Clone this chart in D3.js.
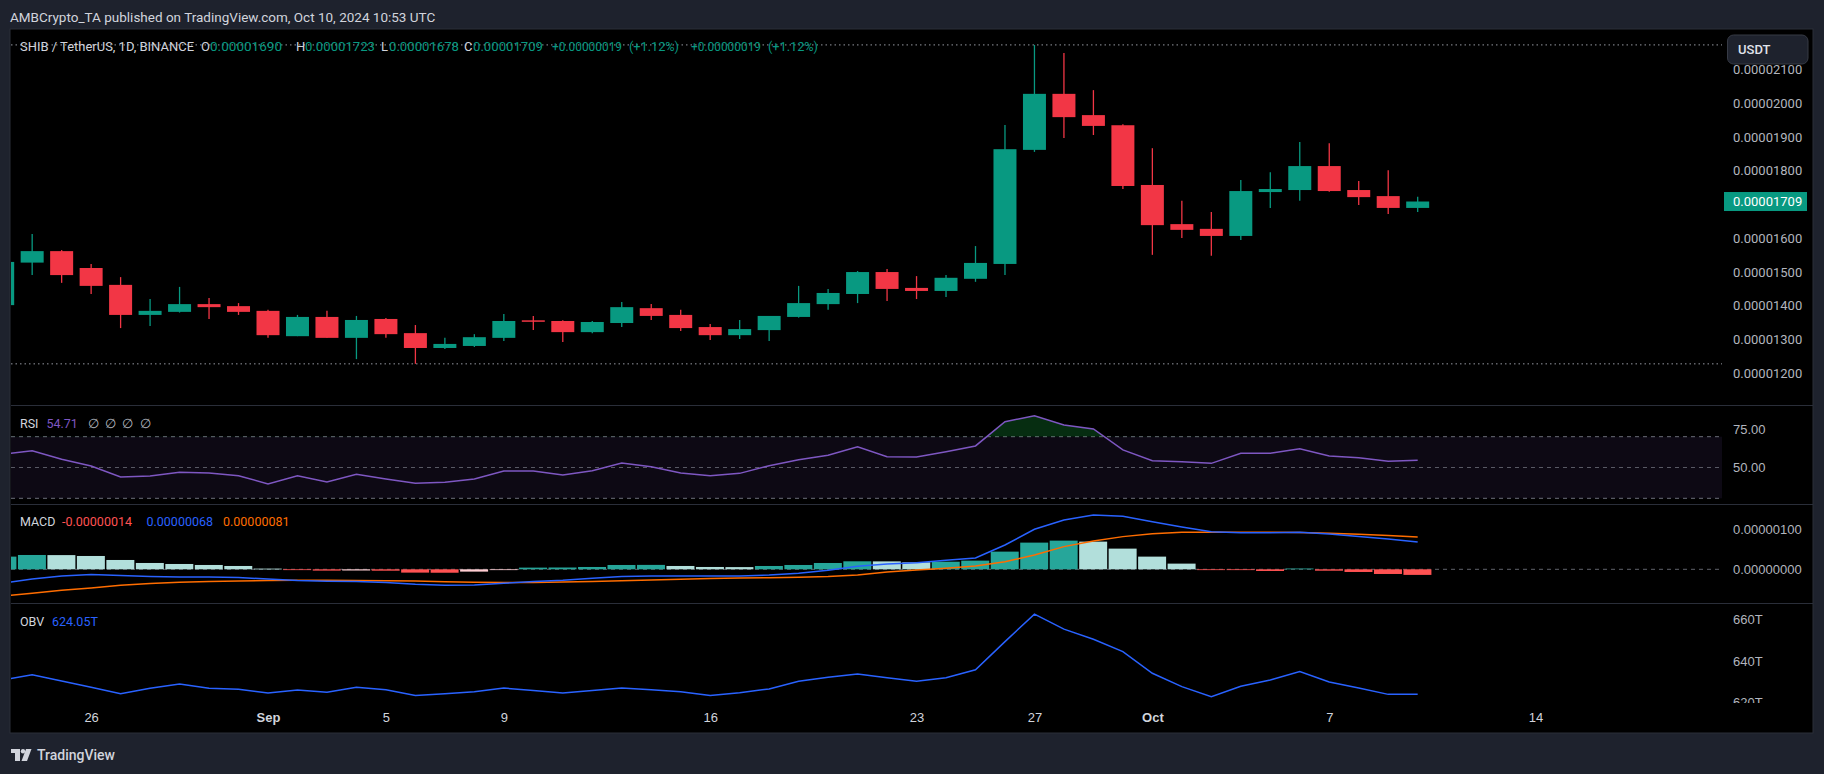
<!DOCTYPE html>
<html><head><meta charset="utf-8">
<script src="https://cdn.jsdelivr.net/npm/d3@7"></script>
<style>
html,body{margin:0;padding:0;background:#1e222d;overflow:hidden;}
svg{display:block;font-family:Roboto,"Noto Sans",sans-serif;}
</style></head>
<body><svg id="c" width="1824" height="774"></svg>
<script>
// ---------- DATA ----------
const dates = ["2024-08-23","2024-08-24","2024-08-25","2024-08-26","2024-08-27","2024-08-28","2024-08-29","2024-08-30","2024-08-31",
"2024-09-01","2024-09-02","2024-09-03","2024-09-04","2024-09-05","2024-09-06","2024-09-07","2024-09-08","2024-09-09","2024-09-10",
"2024-09-11","2024-09-12","2024-09-13","2024-09-14","2024-09-15","2024-09-16","2024-09-17","2024-09-18","2024-09-19","2024-09-20",
"2024-09-21","2024-09-22","2024-09-23","2024-09-24","2024-09-25","2024-09-26","2024-09-27","2024-09-28","2024-09-29","2024-09-30",
"2024-10-01","2024-10-02","2024-10-03","2024-10-04","2024-10-05","2024-10-06","2024-10-07","2024-10-08","2024-10-09","2024-10-10"];
// prices in units of 1e-8 USDT
const open  = [1402,1528,1562,1512,1462,1373,1382,1405,1399,1385,1310,1367,1305,1361,1319,1275,1281,1305,1357,1355,1322,1349,1393,1373,1337,1313,1328,1367,1405,1435,1500,1453,1444,1480,1524,1862,2028,1965,1935,1758,1642,1628,1607,1737,1743,1814,1743,1725,1690];
const high  = [1535,1613,1565,1524,1485,1420,1456,1423,1408,1388,1373,1385,1370,1364,1343,1305,1316,1376,1370,1357,1355,1411,1405,1388,1346,1358,1370,1459,1450,1503,1509,1488,1491,1577,1936,2173,2149,2039,1938,1867,1711,1678,1773,1796,1885,1882,1770,1802,1723];
const low   = [1395,1491,1468,1435,1334,1340,1380,1361,1373,1305,1310,1305,1242,1305,1228,1272,1278,1296,1328,1293,1319,1337,1358,1325,1299,1302,1296,1365,1388,1408,1414,1420,1426,1471,1491,1856,1897,1906,1746,1551,1601,1548,1595,1690,1711,1738,1699,1672,1678];
const close = [1530,1562,1491,1459,1373,1385,1405,1396,1382,1313,1367,1305,1358,1316,1275,1287,1307,1355,1353,1322,1352,1396,1370,1334,1313,1331,1370,1408,1438,1500,1450,1444,1483,1527,1864,2028,1959,1933,1755,1639,1625,1607,1740,1746,1814,1740,1722,1690,1709];
const rsi = [58.6,60.9,55.3,51.0,43.8,44.5,46.9,46.4,44.7,39.3,44.7,40.6,45.6,42.5,39.7,40.4,42.5,47.7,47.7,45.1,47.9,52.9,50.5,46.4,44.7,46.2,51.2,55.1,57.9,63.5,57.0,56.8,60.3,64.0,79.7,83.6,77.6,75.0,61.4,54.4,53.8,52.7,59.2,59.2,62.2,57.5,56.4,54.0,54.71];
// MACD values in units of 1e-8
const macdLine = [-35,-24.2,-16.7,-13.3,-15.8,-18.3,-19.2,-19.2,-20.8,-24.2,-28.3,-30,-30.8,-33.3,-37.5,-40,-39.2,-35,-30.8,-27.5,-22.5,-18.3,-16.7,-16.7,-16.7,-16.7,-14.2,-10,-2.5,7.5,13.3,16.5,22.5,28.3,60.8,100,123.3,135.8,132.5,119,105.8,94,91.5,91.5,92.5,88.3,81.7,75.8,68];
const signalLine = [-66.7,-60,-52.5,-46.5,-40,-35.5,-32.5,-30.5,-29,-28,-27.5,-27.5,-27.8,-28.5,-29.5,-31,-32.5,-33,-33,-32,-30.5,-28.5,-27,-25,-23,-22,-21,-20,-18,-14,-7,-2,2.5,8.3,19,35.8,56.7,70.8,81.7,89,92.5,92.5,92.5,92.5,92,90,87.5,84.5,81];
const histogram = [31.7,35.8,35.5,33.3,23.3,15.8,13.3,10.8,8.3,1.7,-1.0,-3.3,-3.0,-3.5,-8.3,-8.6,-5.8,-1.0,4.2,4.5,5.8,10.8,11.0,8.3,5.8,5.5,8.3,10.8,15.8,20.0,19.8,17.5,19.0,21.7,44.2,66.7,71.7,69.2,51.7,31.7,14.2,-1.5,-1.8,-4.2,2.0,-3.5,-6.7,-11.7,-14];
// OBV in trillions
const obv = [630.9,633.4,630.4,627.4,624.3,626.9,629.0,626.9,626.4,624.7,626.1,625.0,627.4,626.2,623.5,624.3,625.3,627.0,625.9,624.7,625.8,627.0,626.2,625.3,623.5,624.8,626.6,630.3,632.2,633.8,632.0,630.3,632.0,635.8,649.3,662.5,655.3,650.4,644.5,634.1,627.7,622.9,627.9,630.9,634.9,629.9,627.0,624.0,624.05];

const timeTicks = ["2024-08-26","2024-09-01","2024-09-05","2024-09-09","2024-09-16","2024-09-23","2024-09-27","2024-10-01","2024-10-07","2024-10-14"];
const timeLabels = ["26","Sep","5","9","16","23","27","Oct","7","14"];
const priceTicks = [1200,1300,1400,1500,1600,1700,1800,1900,2000,2100];
const rsiTicks = [75,50];
const rsiLevels = [70,50,30];
const macdTicks = [0,100];
const obvTicks = [620,640,660];

// ---------- LAYOUT ----------
const W=1824,H=774;
const L=11, PR=1722, AR=1813, TOP=29, BOT=733;
const pane = {price:[30,405], rsi:[406,504], macd:[505,603], obv:[604,703]};
const axisX = 1733;
const UP="#089981", DN="#f23645", TXT="#d1d4dc", AX="#b2b5be", SEP="#2a2e39";
const AXFS = 13;

const svg = d3.select("#c");
const parse = d3.utcParse("%Y-%m-%d");
const D = dates.map(parse);

const x = d3.scaleUtc().domain([parse("2024-09-01"), parse("2024-10-14")]).range([268, 1535.6]);
const step = x(parse("2024-09-02")) - x(parse("2024-09-01"));
const bodyW = step*0.78;

const yP = d3.scaleLinear().domain([1200,2000]).range([373.3,103.3]);
const yR = d3.scaleLinear().domain([30,70]).range([498.3,436.7]);
const yM = d3.scaleLinear().domain([0,100]).range([569.3,529.3]);
const yO = d3.scaleLinear().domain([640,660]).range([661,619.3]);

const fmt8 = v => (v*1e-8).toFixed(8);

// frame
svg.append("rect").attr("width",W).attr("height",H).attr("fill","#1e222d");
svg.append("rect").attr("x",L-1).attr("y",TOP).attr("width",AR-L+1).attr("height",BOT-TOP).attr("fill","#000").attr("stroke",SEP);

// clip paths
const defs = svg.append("defs");
Object.entries(pane).forEach(([k,[a,b]])=>{
  defs.append("clipPath").attr("id","clip-"+k).append("rect").attr("x",L).attr("y",a).attr("width",PR-L).attr("height",b-a);
  defs.append("clipPath").attr("id","clipax-"+k).append("rect").attr("x",PR).attr("y",a).attr("width",AR-PR).attr("height",b-a);
});
defs.append("clipPath").attr("id","clip-ob").append("rect").attr("x",L).attr("y",pane.rsi[0]).attr("width",PR-L).attr("height",yR(70)-pane.rsi[0]);

// separators
[405.5,504.5,603.5].forEach(yy=>svg.append("line").attr("x1",L).attr("x2",AR).attr("y1",yy).attr("y2",yy).attr("stroke",SEP));

// header
svg.append("text").attr("x",10).attr("y",21.5).attr("fill",TXT).attr("font-size",13.5)
  .text("AMBCrypto_TA published on TradingView.com, Oct 10, 2024 10:53 UTC");

// ---------- PRICE PANE ----------
const gP = svg.append("g").attr("clip-path","url(#clip-price)");
const hiMax = d3.max(high), loMin = d3.min(low);
[hiMax, loMin].forEach(v=>gP.append("line").attr("x1",L).attr("x2",PR).attr("y1",yP(v)).attr("y2",yP(v))
  .attr("stroke","#9598a1").attr("stroke-width",1).attr("stroke-dasharray","1.5,3"));

const candles = gP.selectAll("g.c").data(D).join("g");
candles.append("line")
  .attr("x1",(d)=>x(d)).attr("x2",(d)=>x(d))
  .attr("y1",(d,i)=>yP(high[i])).attr("y2",(d,i)=>yP(low[i]))
  .attr("stroke",(d,i)=>close[i]>=open[i]?UP:DN).attr("stroke-width",1.3);
candles.append("rect")
  .attr("x",d=>x(d)-bodyW/2).attr("width",bodyW)
  .attr("y",(d,i)=>yP(Math.max(open[i],close[i])))
  .attr("height",(d,i)=>Math.max(1.5,Math.abs(yP(open[i])-yP(close[i]))))
  .attr("fill",(d,i)=>close[i]>=open[i]?UP:DN);

// legend (each piece fitted to its width in the reference)
const n = dates.length-1;
const chg = close[n]-close[n-1];
const pct = (chg/close[n-1]*100).toFixed(2);
const chgTxt = (chg>=0?"+":"")+fmt8(chg), pctTxt = "("+(chg>=0?"+":"")+pct+"%)";
const legendPieces = [
  ["SHIB / TetherUS, 1D, BINANCE",20,174,TXT],
  ["O",201,0,TXT],[fmt8(open[n]),210,72,UP],
  ["H",296,0,TXT],[fmt8(high[n]),305,70,UP],
  ["L",381,0,TXT],[fmt8(low[n]),389,70,UP],
  ["C",464,0,TXT],[fmt8(close[n]),473,70,UP],
  [chgTxt,552,70,UP],[pctTxt,629,50,UP],
  [chgTxt,691,70,UP],[pctTxt,768,50,UP]
];
legendPieces.forEach(([t,px,w,c])=>{
  const e = svg.append("text").attr("x",px).attr("y",51).attr("font-size",13).attr("fill",c).text(t);
  if(w) e.attr("textLength",w).attr("lengthAdjust","spacingAndGlyphs");
});

// price axis
const gPA = svg.append("g").attr("clip-path","url(#clipax-price)");
gPA.append("g").attr("transform",`translate(${axisX},0)`)
  .call(d3.axisRight(yP).tickValues(priceTicks).tickFormat(fmt8).tickSize(0).tickPadding(0))
  .call(g=>g.select(".domain").remove())
  .call(g=>g.selectAll("text").attr("fill",AX).attr("font-size",AXFS).attr("font-family","Roboto"));
// USDT box
svg.append("rect").attr("x",1727.5).attr("y",35).attr("width",80.5).attr("height",29).attr("rx",6)
  .attr("fill","#1e222d").attr("stroke","#363a45");
svg.append("text").attr("x",1738).attr("y",53.5).attr("fill","#e0e3eb").attr("font-size",13).attr("font-weight",500).text("USDT");
// current price label
svg.append("rect").attr("x",1724).attr("y",yP(close[n])-9.5).attr("width",83).attr("height",19).attr("fill",UP);
svg.append("text").attr("x",axisX).attr("y",yP(close[n])).attr("dy","0.35em").attr("fill","#fff").attr("font-size",AXFS).text(fmt8(close[n]));

// ---------- RSI PANE ----------
const gR = svg.append("g").attr("clip-path","url(#clip-rsi)");
gR.append("rect").attr("x",L).attr("width",PR-L).attr("y",yR(70)).attr("height",yR(30)-yR(70)).attr("fill","rgba(126,87,194,0.1)");
rsiLevels.forEach(v=>gR.append("line").attr("x1",L).attr("x2",PR).attr("y1",yR(v)).attr("y2",yR(v))
  .attr("stroke","#787b86").attr("stroke-dasharray","4,4").attr("opacity",v===50?0.7:0.9));
gR.append("path").datum(D).attr("clip-path","url(#clip-ob)")
  .attr("d",d3.area().x(d=>x(d)).y0(yR(70)).y1((d,i)=>yR(rsi[i])))
  .attr("fill","rgba(20,160,60,0.28)");
gR.append("path").datum(D).attr("d",d3.line().x(d=>x(d)).y((d,i)=>yR(rsi[i])))
  .attr("fill","none").attr("stroke","#7e57c2").attr("stroke-width",1.5);
svg.append("g").attr("transform",`translate(${axisX},0)`)
  .call(d3.axisRight(yR).tickValues(rsiTicks).tickFormat(d=>d.toFixed(2)).tickSize(0).tickPadding(0))
  .call(g=>g.select(".domain").remove())
  .call(g=>g.selectAll("text").attr("fill",AX).attr("font-size",AXFS));
const rl = svg.append("text").attr("y",427.5).attr("font-size",12.5);
rl.append("tspan").attr("x",20).attr("fill",TXT).text("RSI");
rl.append("tspan").attr("x",46.5).attr("fill","#7e57c2").text(rsi[n].toFixed(2));
[88,105,122,140].forEach(px=>rl.append("tspan").attr("x",px).attr("fill",AX).text("∅"));

// ---------- MACD PANE ----------
const gM = svg.append("g").attr("clip-path","url(#clip-macd)");
gM.append("line").attr("x1",L).attr("x2",PR).attr("y1",yM(0)).attr("y2",yM(0))
  .attr("stroke","#787b86").attr("stroke-dasharray","4,4").attr("opacity",0.8);
const histColor = (i)=>{
  const v=histogram[i], p = i>0?histogram[i-1]:-Infinity;
  if(v>=0) return v>p?"#26a69a":"#b2dfdb";
  return v<p?"#ff5252":"#ffcdd2";
};
gM.selectAll("rect.h").data(D).join("rect")
  .attr("x",d=>x(d)-step/2+0.5).attr("width",step-1.5)
  .attr("y",(d,i)=>Math.min(yM(0),yM(histogram[i])))
  .attr("height",(d,i)=>Math.max(0.8,Math.abs(yM(histogram[i])-yM(0))))
  .attr("fill",(d,i)=>histColor(i));
gM.append("path").datum(D).attr("d",d3.line().x(d=>x(d)).y((d,i)=>yM(signalLine[i])))
  .attr("fill","none").attr("stroke","#ff6d00").attr("stroke-width",1.5);
gM.append("path").datum(D).attr("d",d3.line().x(d=>x(d)).y((d,i)=>yM(macdLine[i])))
  .attr("fill","none").attr("stroke","#2962ff").attr("stroke-width",1.5);
svg.append("g").attr("transform",`translate(${axisX},0)`)
  .call(d3.axisRight(yM).tickValues(macdTicks).tickFormat(fmt8).tickSize(0).tickPadding(0))
  .call(g=>g.select(".domain").remove())
  .call(g=>g.selectAll("text").attr("fill",AX).attr("font-size",AXFS));
const ml = svg.append("text").attr("y",526).attr("font-size",12.5);
ml.append("tspan").attr("x",20).attr("fill",TXT).text("MACD");
ml.append("tspan").attr("x",62).attr("fill","#ff5252").text(fmt8(histogram[n]));
ml.append("tspan").attr("x",146.5).attr("fill","#2962ff").text(fmt8(macdLine[n]));
ml.append("tspan").attr("x",223).attr("fill","#ff6d00").text(fmt8(signalLine[n]));

// ---------- OBV PANE ----------
const gO = svg.append("g").attr("clip-path","url(#clip-obv)");
gO.append("path").datum(D).attr("d",d3.line().x(d=>x(d)).y((d,i)=>yO(obv[i])))
  .attr("fill","none").attr("stroke","#2962ff").attr("stroke-width",1.5);
svg.append("g").attr("clip-path","url(#clipax-obv)").append("g").attr("transform",`translate(${axisX},0)`)
  .call(d3.axisRight(yO).tickValues(obvTicks).tickFormat(d=>d+"T").tickSize(0).tickPadding(0))
  .call(g=>g.select(".domain").remove())
  .call(g=>g.selectAll("text").attr("fill",AX).attr("font-size",AXFS));
const ol = svg.append("text").attr("y",626).attr("font-size",12.5);
ol.append("tspan").attr("x",20).attr("fill",TXT).text("OBV");
ol.append("tspan").attr("x",52).attr("fill","#2962ff").text(obv[n].toFixed(2)+"T");

// ---------- TIME AXIS ----------
svg.append("g").attr("transform","translate(0,713)")
  .call(d3.axisBottom(x).tickValues(timeTicks.map(parse)).tickFormat((d,i)=>timeLabels[i]).tickSize(0).tickPadding(0))
  .call(g=>g.select(".domain").remove())
  .call(g=>g.selectAll("text").attr("fill",TXT).attr("font-size",13)
     .attr("font-weight",(d,i)=>isNaN(+timeLabels[i])?700:400));

// ---------- FOOTER LOGO ----------
const lg = svg.append("g").attr("fill","#d1d4dc");
lg.append("path").attr("d","M11,749 H20 V761 H15 V753 H11 Z");
lg.append("circle").attr("cx",23).attr("cy",751.2).attr("r",2.2);
lg.append("path").attr("d","M26,749 H31.5 L27,761 H21.5 Z");
svg.append("text").attr("x",37).attr("y",760).attr("fill","#d1d4dc").attr("font-size",14).attr("font-weight",500).text("TradingView");
</script>
</body></html>
